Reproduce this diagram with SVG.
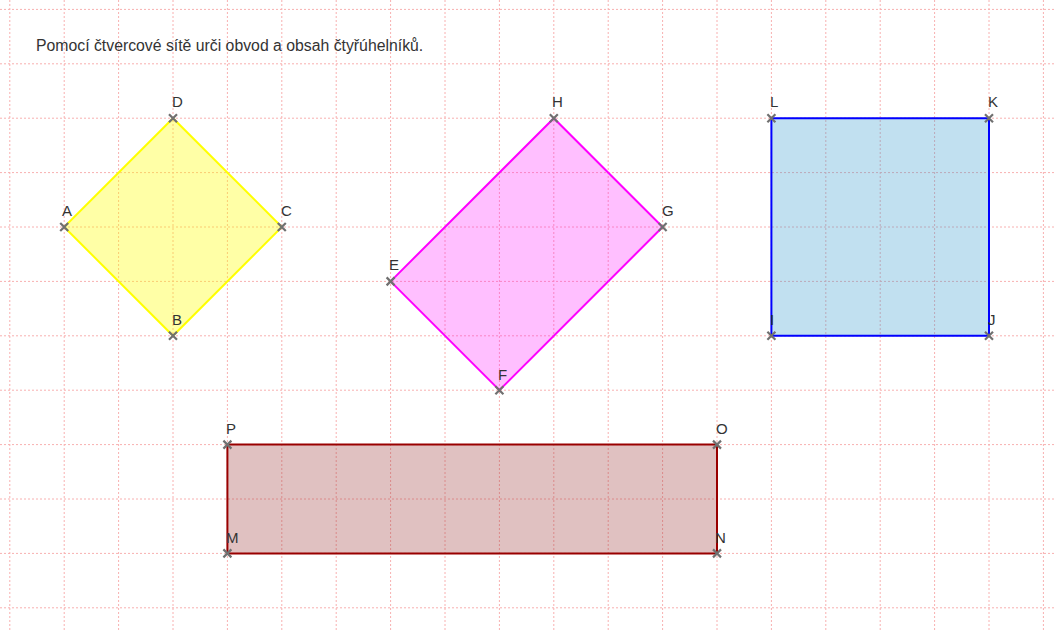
<svg xmlns="http://www.w3.org/2000/svg" width="1056" height="632" viewBox="0 0 1056 632">
<style>
.grid line{stroke:#f8b0b0;stroke-width:1;stroke-dasharray:2,2}
.lbl{font-family:"Liberation Sans",Arial,sans-serif;font-size:15px;fill:#333}
.title{font-family:"Liberation Sans",Arial,sans-serif;font-size:15.8px;fill:#333}
.pt{stroke:#707070;stroke-width:2.2;fill:none}
</style>
<defs>
<path id="x" class="pt" d="M-4,-4L4,4M-4,4L4,-4"/>
</defs>
<rect width="1056" height="632" fill="#fff"/>
<g class="grid">
<line x1="9.8" y1="0" x2="9.8" y2="632"/>
<line x1="64.2" y1="0" x2="64.2" y2="632"/>
<line x1="118.6" y1="0" x2="118.6" y2="632"/>
<line x1="173" y1="0" x2="173" y2="632"/>
<line x1="227.4" y1="0" x2="227.4" y2="632"/>
<line x1="281.8" y1="0" x2="281.8" y2="632"/>
<line x1="336.2" y1="0" x2="336.2" y2="632"/>
<line x1="390.6" y1="0" x2="390.6" y2="632"/>
<line x1="445" y1="0" x2="445" y2="632"/>
<line x1="499.4" y1="0" x2="499.4" y2="632"/>
<line x1="553.8" y1="0" x2="553.8" y2="632"/>
<line x1="608.2" y1="0" x2="608.2" y2="632"/>
<line x1="662.6" y1="0" x2="662.6" y2="632"/>
<line x1="717" y1="0" x2="717" y2="632"/>
<line x1="771.4" y1="0" x2="771.4" y2="632"/>
<line x1="825.8" y1="0" x2="825.8" y2="632"/>
<line x1="880.2" y1="0" x2="880.2" y2="632"/>
<line x1="934.6" y1="0" x2="934.6" y2="632"/>
<line x1="989" y1="0" x2="989" y2="632"/>
<line x1="1043.4" y1="0" x2="1043.4" y2="632"/>
<line x1="0" y1="9.4" x2="1056" y2="9.4"/>
<line x1="0" y1="63.8" x2="1056" y2="63.8"/>
<line x1="0" y1="118.2" x2="1056" y2="118.2"/>
<line x1="0" y1="172.6" x2="1056" y2="172.6"/>
<line x1="0" y1="227" x2="1056" y2="227"/>
<line x1="0" y1="281.4" x2="1056" y2="281.4"/>
<line x1="0" y1="335.8" x2="1056" y2="335.8"/>
<line x1="0" y1="390.2" x2="1056" y2="390.2"/>
<line x1="0" y1="444.6" x2="1056" y2="444.6"/>
<line x1="0" y1="499" x2="1056" y2="499"/>
<line x1="0" y1="553.4" x2="1056" y2="553.4"/>
<line x1="0" y1="607.8" x2="1056" y2="607.8"/>
</g>
<text class="title" x="36" y="50.5">Pomocí čtvercové sítě urči obvod a obsah čtyřúhelníků.</text>
<g id="ABCD">
<polygon points="64.2,227 173,335.8 281.8,227 173,118.2" fill="#ffff00" fill-opacity="0.35" stroke="#ffff00" stroke-width="2"/>
<use href="#x" x="64.2" y="227"/><use href="#x" x="173" y="335.8"/><use href="#x" x="281.8" y="227"/><use href="#x" x="173" y="118.2"/>
<text class="lbl" x="62" y="216">A</text><text class="lbl" x="172" y="325">B</text><text class="lbl" x="281" y="216">C</text><text class="lbl" x="172" y="107">D</text>
</g>
<g id="EFGH">
<polygon points="390.6,281.4 499.4,390.2 662.6,227 553.8,118.2" fill="#ff00ff" fill-opacity="0.25" stroke="#ff00ff" stroke-width="2"/>
<use href="#x" x="390.6" y="281.4"/><use href="#x" x="499.4" y="390.2"/><use href="#x" x="662.6" y="227"/><use href="#x" x="553.8" y="118.2"/>
<text class="lbl" x="389" y="270">E</text><text class="lbl" x="498" y="380">F</text><text class="lbl" x="662" y="216">G</text><text class="lbl" x="552" y="107">H</text>
</g>
<g id="IJKL">
<polygon points="771.4,335.8 989,335.8 989,118.2 771.4,118.2" fill="#3399cc" fill-opacity="0.3" stroke="#0000ff" stroke-width="2"/>
<use href="#x" x="771.4" y="335.8"/><use href="#x" x="989" y="335.8"/><use href="#x" x="989" y="118.2"/><use href="#x" x="771.4" y="118.2"/>
<text class="lbl" x="770" y="325">I</text><text class="lbl" x="988" y="325">J</text><text class="lbl" x="988" y="107">K</text><text class="lbl" x="770" y="107">L</text>
</g>
<g id="MNOP">
<polygon points="227.4,553.4 717,553.4 717,444.6 227.4,444.6" fill="#993333" fill-opacity="0.3" stroke="#990000" stroke-width="2"/>
<use href="#x" x="227.4" y="553.4"/><use href="#x" x="717" y="553.4"/><use href="#x" x="717" y="444.6"/><use href="#x" x="227.4" y="444.6"/>
<text class="lbl" x="226" y="543">M</text><text class="lbl" x="715" y="543">N</text><text class="lbl" x="716" y="434">O</text><text class="lbl" x="226" y="434">P</text>
</g>
<g id="connectors"/>
</svg>
